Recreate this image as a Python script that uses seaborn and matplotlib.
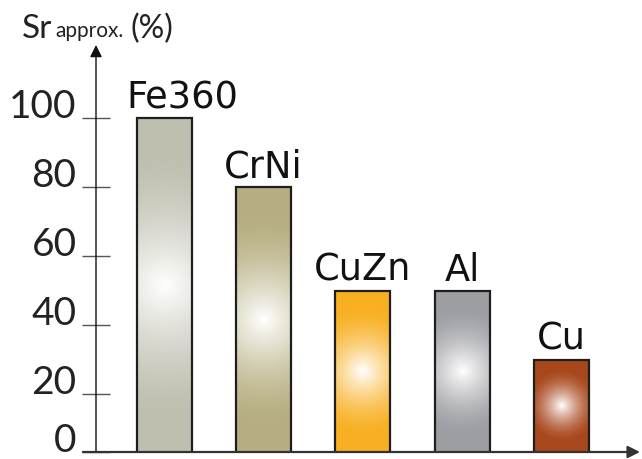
import matplotlib
matplotlib.use('Agg')
import matplotlib.pyplot as plt
import matplotlib.colors as mcolors
import seaborn as sns
import numpy as np

# chart data
metals = ['Fe360', 'CrNi', 'CuZn', 'Al', 'Cu']
sr_values = [100, 80, 50, 50, 30]
bar_colors = ['#bfbfb0', '#b6ae80', '#f8b022', '#9d9ea3', '#a8471c']
y_ticks = [0, 20, 40, 60, 80, 100]

sns.set_style('white')
plt.rcParams['font.family'] = ['Lato', 'DejaVu Sans']

fig = plt.figure(figsize=(6.42, 4.59), dpi=100)
W, H = 642, 459
# axes placed so y-axis sits at x=96px, baseline at y=452px
ax = fig.add_axes([96 / W, 7 / H, 544 / W, 407 / H])

sns.barplot(x=metals, y=sr_values, hue=metals, palette=bar_colors, legend=False,
            width=0.554, edgecolor='#1e1e1e', linewidth=1.6, ax=ax)

# the drawn baseline sits a little above the zero level
ax.set_xlim(-0.685, 4.79)
ax.set_ylim(3.2, 121.2)
fig.canvas.draw()

# radial white-centred gradient inside each bar
ybot = ax.get_ylim()[0]
to_px = ax.transData
for patch, col in zip(ax.patches, bar_colors):
    x0, w = patch.get_x(), patch.get_width()
    y0, y1 = ybot, patch.get_height()
    (px0, py0) = to_px.transform((x0, y0))
    (px1, py1) = to_px.transform((x0 + w, y1))
    wp, hp = abs(px1 - px0), abs(py1 - py0)
    nx, ny = int(wp) + 1, int(hp) + 1
    xx, yy = np.meshgrid(np.linspace(-wp / 2, wp / 2, nx), np.linspace(-hp / 2, hp / 2, ny))
    R = max(0.4 * hp, 0.6 * wp)
    t = np.clip(np.sqrt(xx ** 2 + yy ** 2) / R, 0, 1)
    k = (1 - t) ** 1.6
    base = np.array(mcolors.to_rgb(col))
    img = base[None, None, :] * (1 - k[..., None]) + k[..., None]
    im = ax.imshow(img, extent=(x0, x0 + w, y0, y1), aspect='auto',
                   origin='lower', zorder=2, interpolation='bilinear')
    im.set_clip_path(patch)
    patch.set_facecolor('none')
    patch.set_zorder(3)

for patch, name in zip(ax.patches, metals):
    cx = patch.get_x() + patch.get_width() / 2
    dx = 0
    ha = 'center'
    if name == 'Fe360':
        cx = patch.get_x()
        dx = -7
        ha = 'left'
    ax.annotate(name, (cx, patch.get_height()), xytext=(dx, 7),
                textcoords='offset points', ha=ha, va='baseline',
                fontsize=26.5, color='#111111', family='DejaVu Sans',
                annotation_clip=False)

# axes: hide spines, draw arrows
for s in ax.spines.values():
    s.set_visible(False)
ax.set_xticks([])
tick_pos = [ybot] + y_ticks[1:]
ax.set_yticks(tick_pos)
ax.set_yticklabels([str(v) for v in y_ticks], fontsize=28, va='baseline')
ax.tick_params(axis='y', direction='inout', length=20, width=1.0,
               color='#555555', labelcolor='#222222', pad=4, left=True)
ax.set_xlabel('')
ax.set_ylabel('')

ax.annotate('', xy=(0, 1), xytext=(0, 0), xycoords='axes fraction',
            arrowprops=dict(arrowstyle='-|>', color='#111111', lw=1.0,
                            mutation_scale=18, shrinkA=0, shrinkB=0),
            annotation_clip=False, zorder=5)
ax.annotate('', xy=(1.0, 0), xytext=(-0.024, 0), xycoords='axes fraction',
            arrowprops=dict(arrowstyle='-|>', color='#333333', lw=1.6,
                            mutation_scale=18, shrinkA=0, shrinkB=0),
            annotation_clip=False, zorder=5)

# y title
fig.text(22 / W, 1 - 38 / H, 'Sr', fontsize=24, color='#222222', va='baseline')
fig.text(55 / W, 1 - 37 / H, 'approx.', fontsize=15, color='#222222', va='baseline')
fig.text(130 / W, 1 - 38 / H, '(%)', fontsize=23, color='#222222', va='baseline')

fig.savefig('out.png', dpi=100)
